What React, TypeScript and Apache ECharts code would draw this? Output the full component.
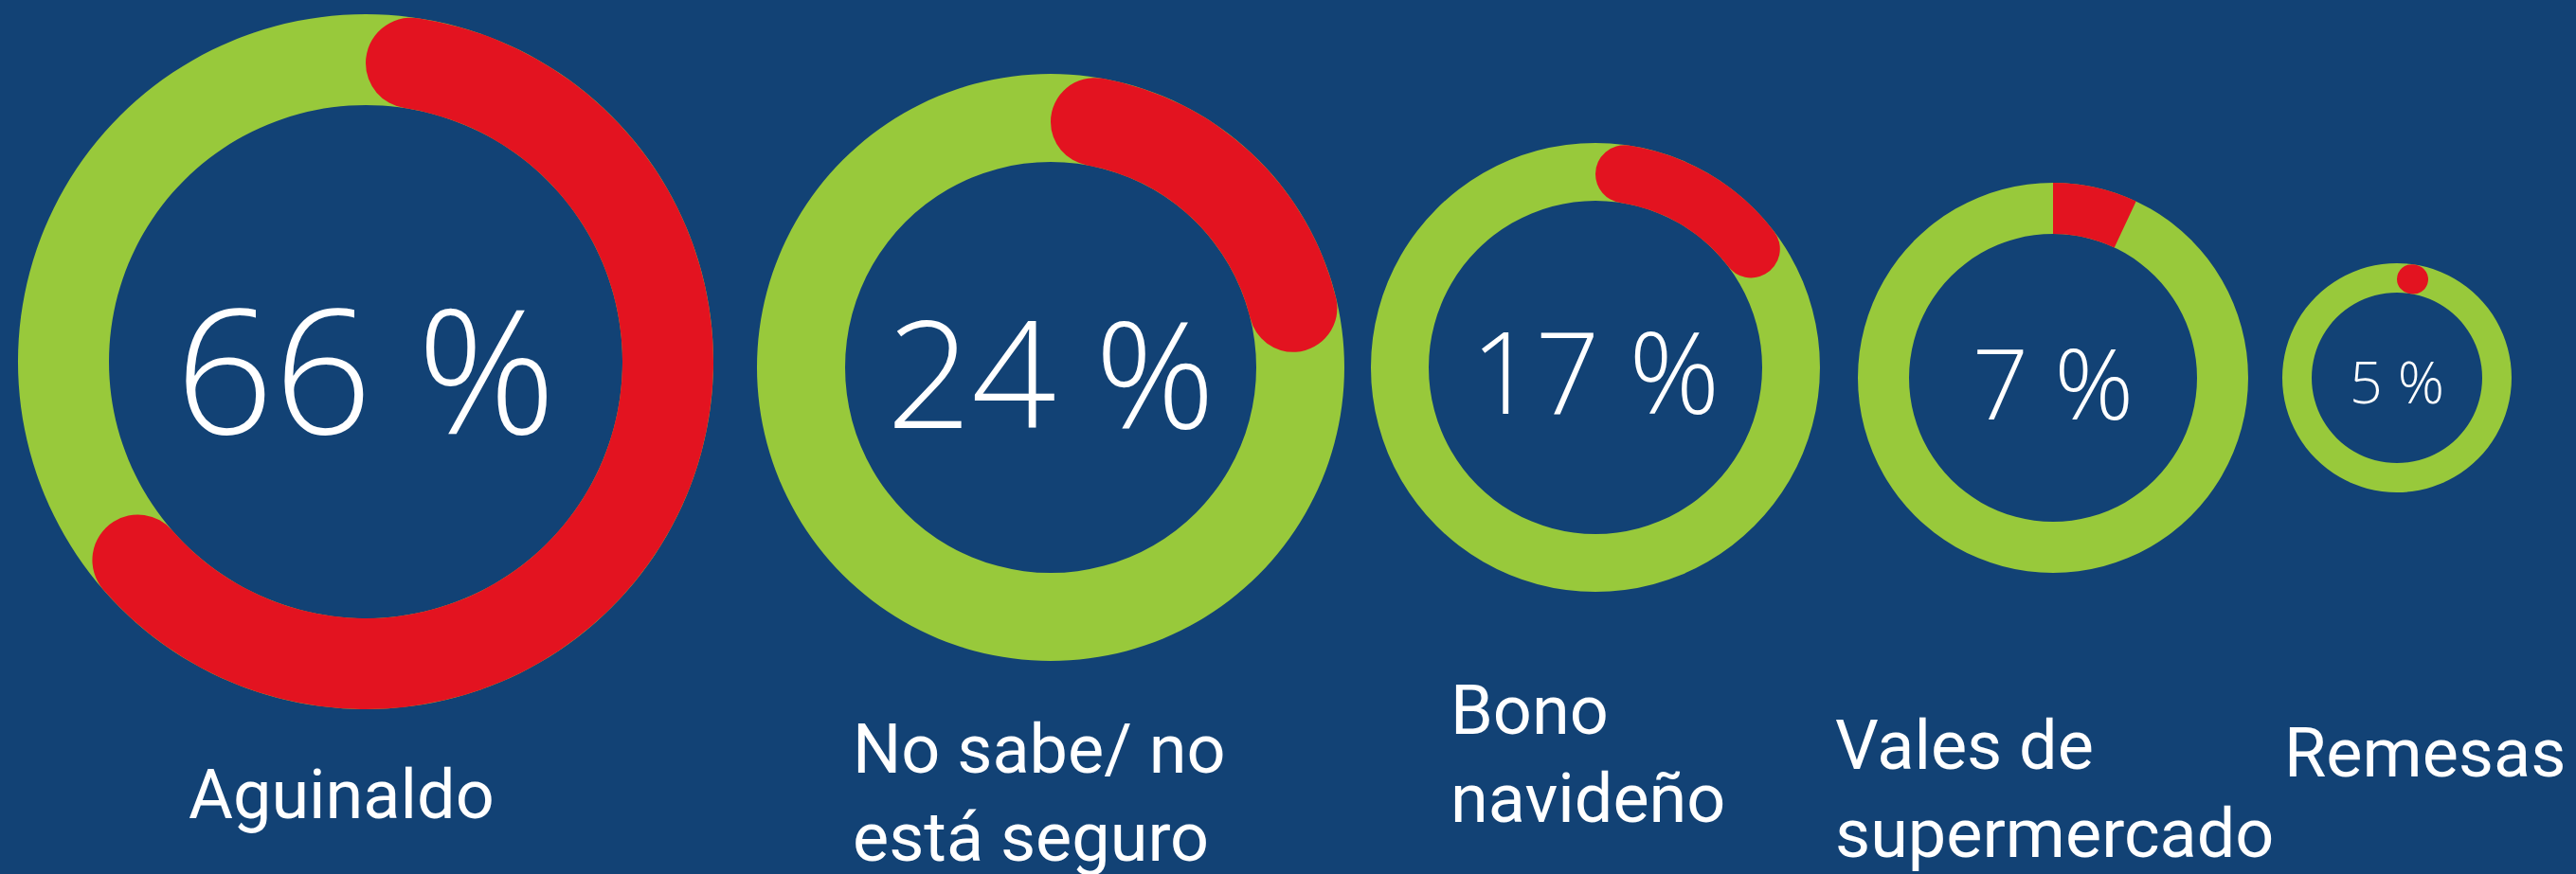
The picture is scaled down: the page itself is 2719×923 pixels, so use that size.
import React, { useEffect, useRef } from "react";
import * as echarts from "echarts";

// ---- data ----
const categories = ["Aguinaldo", "No sabe/ no\nestá seguro", "Bono\nnavideño", "Vales de\nsupermercado", "Remesas"];
const values = [66, 24, 17, 7, 5];
const roundCaps = [true, true, true, false, true];

// ---- layout / style ----
const BG = "#124275";
const GREEN = "#98C93B";
const RED = "#E31320";
const W = 2719;
const H = 923;
const centers = [[386, 382], [1109, 388], [1684, 388], [2167, 399], [2530, 399]];
const radii = [[271, 367], [217, 310], [176, 237], [152, 206], [90, 121]];
const valueFont = [182, 157, 119, 104, 61];
const valueY = [387, 391, 391, 402, 402];
const labelX = [199, 900, 1531, 1937, 2411];
const labelY = [839, 791, 750, 787, 795];
const LINE_H = 93;
const LABEL_FONT = 72;

export default function App() {
  const ref = useRef<HTMLDivElement>(null);
  useEffect(() => {
    if (!ref.current) return;
    const chart = echarts.init(ref.current, undefined, { renderer: "svg", width: W, height: H });
    const series: any[] = [];
    const graphic: any[] = [];
    values.forEach((v, i) => {
      const [r0, r] = radii[i];
      const base = {
        type: "pie",
        center: centers[i],
        radius: radii[i],
        startAngle: 90,
        clockwise: true,
        silent: true,
        label: { show: false },
        labelLine: { show: false },
        emphasis: { disabled: true },
        avoidLabelOverlap: false,
      };
      series.push({
        ...base,
        z: 1,
        data: [{ value: 100, name: categories[i] + "-base", itemStyle: { color: GREEN } }],
      });
      series.push({
        ...base,
        z: 2,
        data: [
          { value: v, name: categories[i], itemStyle: { color: RED, borderRadius: roundCaps[i] ? (r - r0) / 2 : 0 } },
          { value: 100 - v, name: categories[i] + "-rest", itemStyle: { color: "rgba(0,0,0,0)" } },
        ],
      });
      graphic.push({
        type: "text",
        x: centers[i][0],
        y: valueY[i],
        style: {
          text: `${v} %`,
          fill: "#ffffff",
          font: `300 ${valueFont[i]}px "Open Sans"`,
          align: "center",
          verticalAlign: "middle",
          textAlign: "center",
          textVerticalAlign: "middle",
        },
      });
      categories[i].split("\n").forEach((line, k) => {
        graphic.push({
          type: "text",
          x: labelX[i],
          y: labelY[i] + k * LINE_H,
          style: {
            text: line,
            fill: "#ffffff",
            font: `400 ${LABEL_FONT}px Roboto`,
            align: "left",
            verticalAlign: "middle",
            textAlign: "left",
            textVerticalAlign: "middle",
          },
        });
      });
    });
    chart.setOption({
      animation: false,
      backgroundColor: BG,
      series,
      graphic: { elements: graphic },
    });
    return () => chart.dispose();
  }, []);
  return <div ref={ref} style={{ position: "fixed", left: 0, top: 0, width: W, height: H }} />;
}
